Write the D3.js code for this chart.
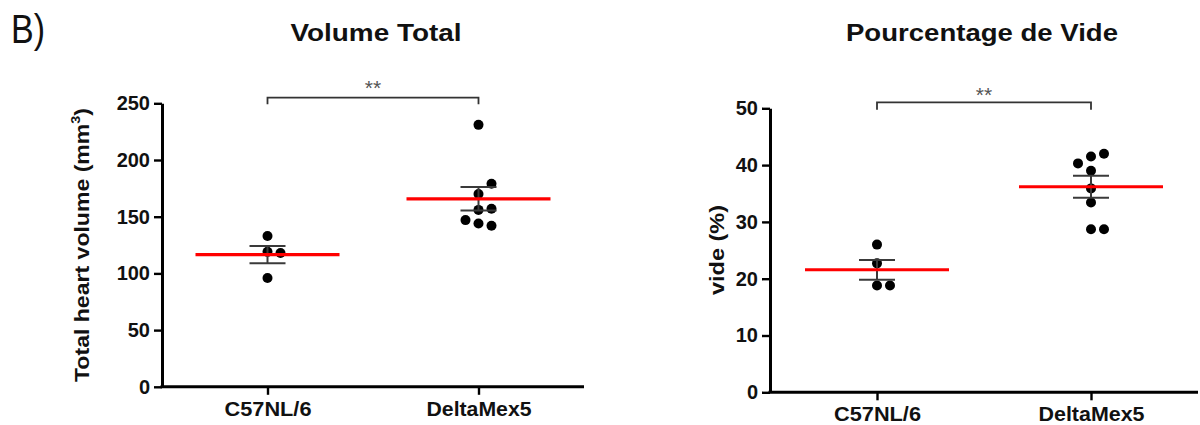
<!DOCTYPE html>
<html>
<head>
<meta charset="utf-8">
<script src="https://cdn.jsdelivr.net/npm/d3@7"></script>
<style>
  html, body { margin: 0; padding: 0; background: #fff; }
  svg { display: block; }
  text { font-family: "Liberation Sans", Arial, sans-serif; fill: #111; }
</style>
</head>
<body>
<svg id="chart" width="1200" height="425"></svg>
<script>
// ---- data ----
const categories = ["C57NL/6", "DeltaMex5"];
const volumeC57 = [133, 119, 118, 96];
const volumeDelta = [231, 170, 179, 156, 157, 144, 142, 147];
const videC57 = [26.0, 22.7, 18.8, 18.8];
const videDelta = [41.5, 42.0, 40.3, 39.0, 35.9, 33.4, 28.7, 28.7];
const volumeTicks = [0, 50, 100, 150, 200, 250];
const videTicks = [0, 10, 20, 30, 40, 50];
const panelTitles = ["Volume Total", "Pourcentage de Vide"];
const axisTitles = ["Total heart volume (mm", "vide (%)"];
const significance = ["**", "**"];
const panelLabel = "B)";

const svg = d3.select("#chart");

svg.append("text").attr("x", 11).attr("y", 43)
  .attr("font-size", 40).attr("textLength", 34).attr("lengthAdjust", "spacingAndGlyphs")
  .text(panelLabel);

const panels = [
  { groups: [volumeC57, volumeDelta], ticks: volumeTicks, domain: [0, 250],
    axisX: 162, axisEnd: 584, yTop: 103.3, yBottom: 386.8,
    title: panelTitles[0], titleX: 376, titleLen: 171,
    yTitle: axisTitles[0], sup: "3", yTitleX: 89, yTitleY: 245, yTitleLen: 274,
    catLen: [87, 105], bracketY: 97.7, bracketDrop: 6.5, starY: 95, sig: significance[0] },
  { groups: [videC57, videDelta], ticks: videTicks, domain: [0, 50],
    axisX: 770, axisEnd: 1198, yTop: 108.3, yBottom: 392.3,
    title: panelTitles[1], titleX: 982, titleLen: 272,
    yTitle: axisTitles[1], sup: null, yTitleX: 724, yTitleY: 250, yTitleLen: 90,
    catLen: [87, 106], bracketY: 102.3, bracketDrop: 7.5, starY: 102, sig: significance[1] }
];

panels.forEach(p => {
  const g = svg.append("g");
  const y = d3.scaleLinear().domain(p.domain).range([p.yBottom, p.yTop]);
  const x = d3.scalePoint().domain(categories).range([p.axisX, p.axisEnd]).padding(0.5);

  // title
  g.append("text").attr("x", p.titleX).attr("y", 41).attr("text-anchor", "middle")
    .attr("font-size", 23).attr("font-weight", "bold")
    .attr("textLength", p.titleLen).attr("lengthAdjust", "spacingAndGlyphs")
    .text(p.title);

  // y axis
  const yAxis = g.append("g").attr("transform", `translate(${p.axisX},0)`)
    .call(d3.axisLeft(y).tickValues(p.ticks).tickSize(8).tickSizeOuter(0).tickPadding(4));
  yAxis.select(".domain").attr("stroke", "#000").attr("stroke-width", 3);
  yAxis.selectAll(".tick line").attr("stroke", "#000").attr("stroke-width", 2.4);
  yAxis.selectAll(".tick text").attr("font-size", 20).attr("font-weight", "bold")
    .attr("fill", "#111").attr("font-family", "Liberation Sans, Arial, sans-serif");

  // x axis
  const xAxis = g.append("g").attr("transform", `translate(0,${p.yBottom})`)
    .call(d3.axisBottom(x).tickSize(8).tickSizeOuter(0).tickPadding(6));
  xAxis.select(".domain").attr("stroke", "#000").attr("stroke-width", 3)
    .attr("d", `M${p.axisX - 1.5},0H${p.axisEnd}`);
  xAxis.selectAll(".tick line").attr("stroke", "#000").attr("stroke-width", 2.4);
  xAxis.selectAll(".tick text").attr("font-size", 21).attr("font-weight", "bold")
    .attr("fill", "#111").attr("font-family", "Liberation Sans, Arial, sans-serif")
    .attr("textLength", (d, i) => p.catLen[i]).attr("lengthAdjust", "spacingAndGlyphs");

  // y axis title
  const yt = g.append("text")
    .attr("transform", `translate(${p.yTitleX},${p.yTitleY}) rotate(-90)`)
    .attr("text-anchor", "middle").attr("font-size", 21).attr("font-weight", "bold")
    .attr("textLength", p.yTitleLen).attr("lengthAdjust", "spacingAndGlyphs");
  yt.append("tspan").text(p.yTitle);
  if (p.sup) {
    yt.append("tspan").attr("font-size", 13).attr("dy", -9).text(p.sup);
    yt.append("tspan").attr("dy", 9).text(")");
  }

  // groups
  const step = 13, minDist = 10.5, r = 5;
  p.groups.forEach((vals, gi) => {
    const cx = x(categories[gi]);
    const mean = d3.mean(vals);
    const sem = d3.deviation(vals) / Math.sqrt(vals.length);

    // dodge layout
    const placed = [];
    vals.forEach(v => {
      const py = y(v);
      const cands = [0, step, -step, 2 * step, -2 * step];
      let off = 0;
      for (const c of cands) {
        if (placed.every(q => Math.hypot(q.x - c, q.y - py) >= minDist)) { off = c; break; }
      }
      placed.push({ x: off, y: py, v });
    });

    g.selectAll(null).data(placed).enter().append("circle")
      .attr("cx", d => cx + d.x).attr("cy", d => y(d.v)).attr("r", r).attr("fill", "#000");

    // error bar (SEM)
    const eb = g.append("g").attr("stroke", "#3a3a3a").attr("stroke-width", 2);
    eb.append("line").attr("x1", cx).attr("x2", cx)
      .attr("y1", y(mean + sem)).attr("y2", y(mean - sem));
    [mean + sem, mean - sem].forEach(v => {
      eb.append("line").attr("x1", cx - 18).attr("x2", cx + 18)
        .attr("y1", y(v)).attr("y2", y(v));
    });

    // mean line
    g.append("line").attr("x1", cx - 72).attr("x2", cx + 72)
      .attr("y1", y(mean)).attr("y2", y(mean))
      .attr("stroke", "#ff0000").attr("stroke-width", 3.2);
  });

  // significance bracket
  const x0 = x(categories[0]), x1 = x(categories[1]);
  g.append("path")
    .attr("d", `M${x0},${p.bracketY + p.bracketDrop}V${p.bracketY}H${x1}V${p.bracketY + p.bracketDrop}`)
    .attr("fill", "none").attr("stroke", "#333").attr("stroke-width", 1.8);
  g.append("text").attr("x", (x0 + x1) / 2).attr("y", p.starY).attr("text-anchor", "middle")
    .attr("font-size", 21).style("fill", "#555").text(p.sig);
});
</script>
</body>
</html>
